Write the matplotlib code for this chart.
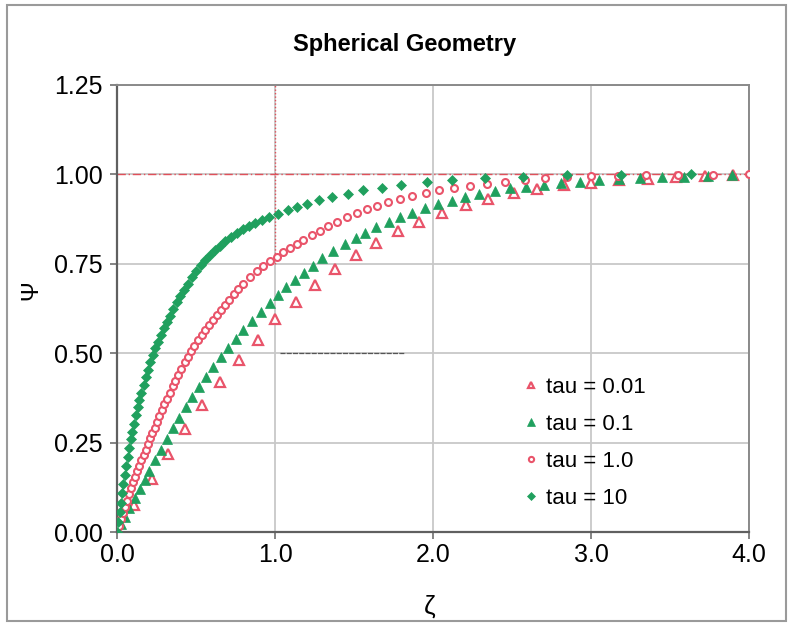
import matplotlib
matplotlib.use("Agg")
import matplotlib.pyplot as plt
from matplotlib.patches import Rectangle

plt.rcParams['font.family'] = ['Liberation Sans', 'DejaVu Sans']

# ---------------- data ----------------
zeta_001 = [0, 0.11, 0.22, 0.32, 0.43, 0.54, 0.65, 0.77, 0.89, 1.00, 1.13, 1.25, 1.38,
            1.51, 1.64, 1.78, 1.91, 2.06, 2.21, 2.35, 2.51, 2.66, 2.83, 3.00, 3.18, 3.36,
            3.54, 3.72, 3.90]
psi_001 = [0, 0.075, 0.148, 0.218, 0.288, 0.355, 0.42, 0.482, 0.538, 0.595, 0.643, 0.69,
           0.735, 0.774, 0.809, 0.841, 0.868, 0.893, 0.914, 0.932, 0.947, 0.959, 0.969,
           0.977, 0.983, 0.988, 0.992, 0.995, 0.997]

zeta_01 = [0, 0.025, 0.05, 0.078, 0.112, 0.145, 0.175, 0.205, 0.24, 0.277, 0.314, 0.353,
           0.392, 0.434, 0.477, 0.52, 0.563, 0.61, 0.657, 0.704, 0.75, 0.8, 0.856, 0.91,
           0.968, 1.019, 1.07, 1.127, 1.184, 1.24, 1.30, 1.37, 1.44, 1.51, 1.57, 1.64,
           1.72, 1.79, 1.87, 1.95, 2.03, 2.12, 2.20, 2.29, 2.39, 2.49, 2.59, 2.70, 2.81,
           2.93, 3.05, 3.18, 3.31, 3.45, 3.59, 3.74, 3.89]
psi_01 = [0, 0.022, 0.043, 0.066, 0.094, 0.12, 0.145, 0.17, 0.2, 0.23, 0.26, 0.29, 0.32,
          0.35, 0.378, 0.406, 0.434, 0.462, 0.488, 0.514, 0.539, 0.565, 0.591, 0.614,
          0.64, 0.663, 0.685, 0.705, 0.724, 0.745, 0.765, 0.785, 0.804, 0.821, 0.836,
          0.852, 0.866, 0.88, 0.893, 0.905, 0.916, 0.926, 0.936, 0.946, 0.954, 0.961,
          0.966, 0.971, 0.976, 0.98, 0.984, 0.987, 0.99, 0.992, 0.994, 0.996, 0.997]

zeta_1 = [0, 0.012, 0.025, 0.038, 0.051, 0.064, 0.077, 0.09, 0.103, 0.116, 0.129, 0.142,
          0.155, 0.168, 0.181, 0.195, 0.209, 0.223, 0.238, 0.253, 0.268, 0.284, 0.3,
          0.317, 0.334, 0.352, 0.37, 0.389, 0.408, 0.428, 0.448, 0.469, 0.49, 0.512,
          0.535, 0.558, 0.582, 0.606, 0.631, 0.657, 0.684, 0.711, 0.739, 0.768, 0.8,
          0.842, 0.884, 0.926, 0.968, 1.011, 1.053, 1.095, 1.138, 1.18, 1.233, 1.285,
          1.338, 1.395, 1.454, 1.517, 1.58, 1.648, 1.718, 1.791, 1.869, 1.954, 2.04,
          2.133, 2.234, 2.344, 2.456, 2.584, 2.709, 2.85, 3.0, 3.17, 3.35, 3.55, 3.77, 4.0]
psi_1 = [0, 0.017, 0.035, 0.053, 0.071, 0.088, 0.105, 0.122, 0.139, 0.154, 0.17, 0.185,
         0.201, 0.216, 0.23, 0.246, 0.262, 0.277, 0.292, 0.308, 0.324, 0.34, 0.357,
         0.373, 0.39, 0.407, 0.423, 0.44, 0.457, 0.474, 0.49, 0.506, 0.521, 0.536,
         0.55, 0.565, 0.579, 0.593, 0.607, 0.622, 0.636, 0.65, 0.665, 0.679, 0.694,
         0.713, 0.73, 0.745, 0.757, 0.77, 0.782, 0.794, 0.805, 0.816, 0.83, 0.842,
         0.855, 0.868, 0.88, 0.892, 0.903, 0.913, 0.922, 0.931, 0.94, 0.948, 0.955,
         0.962, 0.968, 0.974, 0.98, 0.985, 0.989, 0.992, 0.995, 0.996, 0.997, 0.998,
         0.999, 1.0]

zeta_10 = [0, 0.008, 0.016, 0.024, 0.032, 0.04, 0.049, 0.058, 0.067, 0.076, 0.086, 0.096,
           0.107, 0.118, 0.13, 0.142, 0.155, 0.168, 0.182, 0.196, 0.211, 0.226, 0.242,
           0.259, 0.277, 0.295, 0.314, 0.334, 0.355, 0.377, 0.4, 0.424, 0.449, 0.475,
           0.502, 0.53, 0.559, 0.589, 0.62, 0.652, 0.686, 0.721, 0.757, 0.795, 0.834,
           0.875, 0.917, 0.961, 1.02, 1.08, 1.14, 1.2, 1.28, 1.36, 1.46, 1.56, 1.68,
           1.8, 1.96, 2.12, 2.33, 2.57, 2.85, 3.19, 3.63]
psi_10 = [0, 0.028, 0.055, 0.082, 0.109, 0.135, 0.16, 0.185, 0.209, 0.234, 0.259, 0.281,
          0.303, 0.326, 0.349, 0.369, 0.39, 0.411, 0.433, 0.453, 0.474, 0.494, 0.514,
          0.532, 0.551, 0.57, 0.587, 0.605, 0.623, 0.642, 0.66, 0.677, 0.694, 0.712,
          0.73, 0.748, 0.761, 0.775, 0.788, 0.8, 0.813, 0.825, 0.835, 0.846, 0.856,
          0.865, 0.873, 0.88, 0.889, 0.90, 0.909, 0.918, 0.928, 0.937, 0.946, 0.955,
          0.963, 0.971, 0.978, 0.984, 0.99, 0.994, 0.997, 0.999, 1.0]

labels = ["tau = 0.01", "tau = 0.1", "tau = 1.0", "tau = 10"]
x_ticks = [0.0, 1.0, 2.0, 3.0, 4.0]
x_ticklabels = ["0.0", "1.0", "2.0", "3.0", "4.0"]
y_ticks = [0.0, 0.25, 0.5, 0.75, 1.0, 1.25]
y_ticklabels = ["0.00", "0.25", "0.50", "0.75", "1.00", "1.25"]

PINK = '#E9546A'
GREEN = '#20A05E'

# ---------------- figure ----------------
fig = plt.figure(figsize=(7.91, 6.26), dpi=100)
fig.patch.set_facecolor('white')
fig.patches.append(Rectangle((7/791, 1-621/626), 779/791, 616/626, transform=fig.transFigure,
                             fill=False, edgecolor='#9a9a9a', linewidth=1.5))

ax = fig.add_axes([117/791, 1-532/626, 632/791, 447/626])
ax.set_xlim(0, 4)
ax.set_ylim(0, 1.25)
ax.set_xticks(x_ticks)
ax.set_xticklabels(x_ticklabels)
ax.set_yticks(y_ticks)
ax.set_yticklabels(y_ticklabels)
ax.tick_params(axis='both', labelsize=18, length=5, width=1.2, color='#707070')
ax.tick_params(axis='x', pad=3)
ax.tick_params(axis='y', pad=5)
ax.grid(True, color='#c8c8c8', linewidth=1.3, zorder=0)
ax.set_axisbelow(True)
for s in ['left', 'bottom']:
    ax.spines[s].set_color('#606060')
    ax.spines[s].set_linewidth(1.6)
for s in ['top', 'right']:
    ax.spines[s].set_color('#8a8a8a')
    ax.spines[s].set_linewidth(1.4)

# guide lines seen in the reference
ax.axhline(1.0, color='#e0505a', lw=1.0, ls=(0, (6, 2, 1, 2)), zorder=1)
ax.axvline(1.0, ymin=0.6, ymax=1.0, color='#e0505a', lw=1.0, ls=(0, (1, 1.5)), zorder=1)
ax.axhline(0.5, xmin=0.258, xmax=0.455, color='#555555', lw=0.9, ls=(0, (4, 1)), zorder=1)

ax.plot(zeta_001, psi_001, ls='none', marker='^', ms=6.5, mfc='white', mec=PINK, mew=1.6,
        label=labels[0], zorder=3)
ax.plot(zeta_01, psi_01, ls='none', marker='^', ms=7, mfc=GREEN, mec=GREEN, mew=0.5,
        label=labels[1], zorder=4)
ax.plot(zeta_1, psi_1, ls='none', marker='o', ms=5, mfc='white', mec=PINK, mew=1.5,
        label=labels[2], zorder=5)
ax.plot(zeta_10, psi_10, ls='none', marker='D', ms=5, mfc=GREEN, mec=GREEN, mew=0.5,
        label=labels[3], zorder=6)

leg = ax.legend(loc='upper left', bbox_to_anchor=(0.63, 0.367), frameon=False,
                fontsize=16, handlelength=0.6, handletextpad=0.4, labelspacing=0.72,
                borderaxespad=0, markerscale=0.75)

fig.text(405/791, 1-45/626, "Spherical Geometry", ha='center', va='center',
         fontsize=17, fontweight='bold')
ax.set_ylabel("Ψ", fontsize=17)
ax.yaxis.set_label_coords(-0.118, 0.54)
ax.set_xlabel("ζ", fontsize=19)
ax.xaxis.set_label_coords(0.495, -0.14)

fig.savefig("out.png", dpi=100)
